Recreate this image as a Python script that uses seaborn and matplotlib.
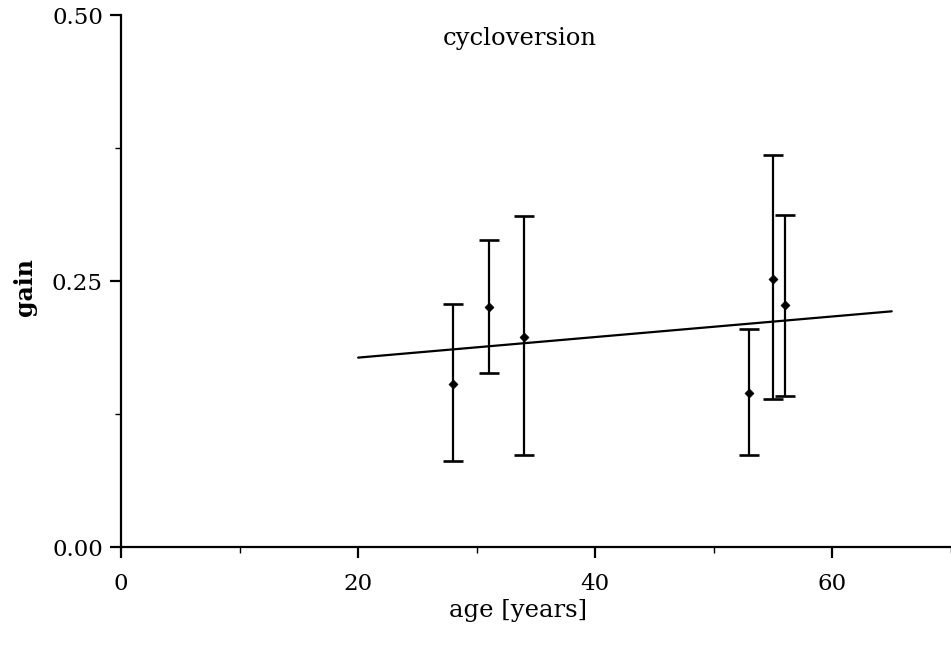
import numpy as np
import pandas as pd
import matplotlib
matplotlib.use("Agg")
import matplotlib.pyplot as plt
import seaborn as sns
from matplotlib.ticker import MultipleLocator

# data
ages = [28, 31, 34, 53, 55, 56]
gain = [0.153, 0.226, 0.197, 0.145, 0.252, 0.227]
gain_upper = [0.228, 0.289, 0.311, 0.205, 0.368, 0.312]
gain_lower = [0.081, 0.164, 0.086, 0.086, 0.139, 0.142]
fit_age = [20, 65]
fit_gain = [0.178, 0.2215]
x_ticks = [0, 20, 40, 60]
y_ticks = [0.00, 0.25, 0.50]
y_tick_labels = ["0.00", "0.25", "0.50"]

sns.set_theme(style="ticks")
plt.rcParams["font.family"] = ["DejaVu Serif", "Liberation Serif"]

df = pd.DataFrame({"age": ages, "gain": gain, "up": gain_upper, "lo": gain_lower})
fit = pd.DataFrame({"age": fit_age, "gain": fit_gain})

fig = plt.figure(figsize=(9.51, 6.45), dpi=100)
ax = fig.add_axes([121 / 951, (645 - 547) / 645, 830 / 951, 532 / 645])

yerr = np.vstack([df["gain"] - df["lo"], df["up"] - df["gain"]])
ax.errorbar(df["age"], df["gain"], yerr=yerr, fmt="none", ecolor="black",
            elinewidth=1.6, capsize=7.5, capthick=1.9)
sns.lineplot(data=fit, x="age", y="gain", ax=ax, color="black", linewidth=1.6)
sns.scatterplot(data=df, x="age", y="gain", ax=ax, color="black", marker="D",
                s=22, edgecolor="black", zorder=5)

ax.set_xlim(0, 70)
ax.set_ylim(0, 0.5)
ax.set_xticks(x_ticks)
ax.set_yticks(y_ticks)
ax.set_yticklabels(y_tick_labels)
ax.xaxis.set_minor_locator(MultipleLocator(10))
ax.yaxis.set_minor_locator(MultipleLocator(0.125))
ax.tick_params(axis="both", which="major", labelsize=16.5, width=1.6, length=8,
               color="black", labelcolor="black", direction="out")
ax.tick_params(axis="x", which="major", pad=11)
ax.tick_params(axis="y", which="major", pad=5)
ax.tick_params(axis="both", which="minor", width=1.0, length=4, color="black")
for s in ["top", "right"]:
    ax.spines[s].set_visible(False)
for s in ["left", "bottom"]:
    ax.spines[s].set_linewidth(1.6)
    ax.spines[s].set_color("black")

ax.set_xlabel("age [years]", fontsize=17.5, color="black")
ax.xaxis.set_label_coords((518 - 121) / 830, -52 / 532)
ax.set_ylabel("gain", fontsize=17, fontweight="bold", color="black")
ax.yaxis.set_label_coords((37 - 121) / 830, (547 - 287) / 532)
ax.text((443 - 121) / 830, (547 - 38) / 532, "cycloversion", transform=ax.transAxes,
        ha="left", va="center", fontsize=17.5, color="black")

fig.savefig("out.png", dpi=100)
